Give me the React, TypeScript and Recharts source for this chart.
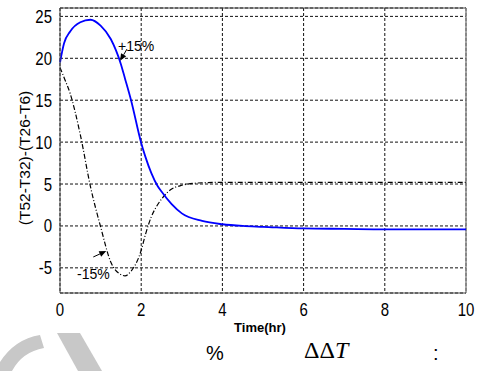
import {
  LineChart, Line, XAxis, YAxis, CartesianGrid, ReferenceLine,
} from 'recharts';

// time samples (hr) shared by both runs
const hours = [0, 0.1, 0.25, 0.5, 0.75, 1.0, 1.25, 1.5, 1.6, 1.75, 2.0, 2.1, 2.25, 2.4, 2.5, 2.75, 3.0, 3.5, 4, 4.5, 5, 6, 7, 8, 9, 10];
// +15% run
const plus15 = [19.5, 21.8, 23.2, 24.3, 24.6, 23.9, 22.3, 19.3, 17.6, 15.0, 9.9, 8.3, 6.3, 4.8, 4.1, 2.6, 1.5, 0.6, 0.2, 0.0, -0.1, -0.3, -0.35, -0.4, -0.4, -0.4];
// -15% run
const minus15 = [18.9, 17.7, 15.8, 10.9, 4.7, -0.1, -4.3, -5.8, -5.95, -5.4, -2.9, -1.1, 1.1, 2.5, 3.2, 4.4, 4.85, 5.15, 5.2, 5.2, 5.2, 5.2, 5.2, 5.2, 5.2, 5.2];

const xTicks = [0, 2, 4, 6, 8, 10];
const yTicks = [-5, 0, 5, 10, 15, 20, 25];

// arrow annotations: tail -> tip in data units, text anchor in data units
const notes = [
  { text: '+15%', tail: [1.65, 21.1], tip: [1.48, 19.7], at: [1.43, 20.9] },
  { text: '-15%', tail: [0.82, -3.7], tip: [1.14, -3.0], at: [0.42, -6.35] },
];

const rows = hours.map((t, i) => ({ t, up: plus15[i], down: minus15[i] }));

const FONT = '"Liberation Sans", Arial, sans-serif';

// tick text is drawn a little taller than the stock glyphs
function XTick({ x, y, payload }: any) {
  return (
    <g transform={`translate(${x},${y + 14.5}) scale(1,1.22)`}>
      <text textAnchor="middle" fontSize={15} fontFamily={FONT} fill="#000">{payload.value}</text>
    </g>
  );
}

function YTick({ x, y, payload }: any) {
  return (
    <g transform={`translate(${x},${y + 6.5}) scale(1,1.22)`}>
      <text textAnchor="end" fontSize={15} fontFamily={FONT} fill="#000">{payload.value}</text>
    </g>
  );
}

function arrowShape(text: string, at: [number, number], tail: [number, number], tip: [number, number]) {
  return (props: any) => {
    const { x1, y1, x2, y2 } = props;
    if (x1 == null) return <g />;
    const dx = x2 - x1;
    const dy = y2 - y1;
    const len = Math.hypot(dx, dy) || 1;
    const ux = dx / len;
    const uy = dy / len;
    const hl = 7;
    const hw = 3;
    const bx = x2 - ux * hl;
    const by = y2 - uy * hl;
    // text position relative to the arrow tail, same scale as the segment
    const sx = dx / (tip[0] - tail[0] || 1);
    const sy = dy / (tip[1] - tail[1] || 1);
    const tx = x1 + (at[0] - tail[0]) * sx;
    const ty = y1 + (at[1] - tail[1]) * sy;
    return (
      <g>
        <line x1={x1} y1={y1} x2={bx} y2={by} stroke="#000" strokeWidth={1} />
        <polygon
          points={`${x2},${y2} ${bx - uy * hw},${by + ux * hw} ${bx + uy * hw},${by - ux * hw}`}
          fill="#000"
        />
        <text x={tx} y={ty} fontSize={14} fontFamily={FONT} fill="#000">{text}</text>
      </g>
    );
  };
}

export default function App() {
  return (
    <div style={{ position: 'absolute', left: 0, top: 0, width: 479, height: 371, background: '#fff', overflow: 'hidden' }}>
      <svg width={479} height={371} style={{ position: 'absolute', left: 0, top: 0 }}>
        <path d="M -5 371 Q 10 340 40 335 L 44 348 Q 22 352 12 371 Z" fill="#c8c8c8" />
        <path d="M 57 333 L 80 333 L 102 371 L 78 371 Z" fill="#c8c8c8" />
      </svg>
      <LineChart
        width={479}
        height={371}
        data={rows}
        margin={{ top: 8, right: 13, bottom: 38, left: 0 }}
        style={{ position: 'absolute', left: 0, top: 0 }}
      >
        <CartesianGrid stroke="#111" strokeDasharray="3 2" />
        <XAxis
          dataKey="t"
          type="number"
          domain={[0, 10]}
          ticks={xTicks}
          height={40}
          tickLine={false}
          stroke="#444"
          tick={<XTick />}
          label={() => (
            <text x={260} y={332} textAnchor="middle" fontSize={13} fontWeight="bold" fontFamily={FONT} fill="#000">
              Time(hr)
            </text>
          )}
        />
        <YAxis
          type="number"
          domain={[-8, 26]}
          ticks={yTicks}
          width={60}
          tickLine={false}
          stroke="#444"
          tick={<YTick />}
          label={() => (
            <text
              x={30}
              y={158}
              transform="rotate(-90, 30, 158)"
              textAnchor="middle"
              fontSize={15.5}
              fontFamily={FONT}
              fill="#000"
            >
              (T52-T32)-(T26-T6)
            </text>
          )}
        />
        <ReferenceLine y={26} stroke="#444" strokeWidth={1} />
        <ReferenceLine x={10} stroke="#888" strokeWidth={1.5} />
        <Line dataKey="down" type="monotone" stroke="#000" strokeWidth={1.2} strokeDasharray="5 2 1 2" dot={false} isAnimationActive={false} />
        <Line dataKey="up" type="monotone" stroke="#0000ff" strokeWidth={1.8} dot={false} isAnimationActive={false} />
        {notes.map((n) => (
          <ReferenceLine
            key={n.text}
            segment={[{ x: n.tail[0], y: n.tail[1] }, { x: n.tip[0], y: n.tip[1] }]}
            shape={arrowShape(n.text, n.at as [number, number], n.tail as [number, number], n.tip as [number, number])}
            ifOverflow="visible"
          />
        ))}
      </LineChart>
      <span style={{ position: 'absolute', left: 206, top: 342, fontSize: 20, fontFamily: FONT, color: '#000' }}>%</span>
      <span style={{ position: 'absolute', left: 304, top: 337, fontSize: 24, fontFamily: '"Liberation Serif", "Times New Roman", serif', color: '#000' }}>
        ΔΔ<i>T</i>
      </span>
      <span style={{ position: 'absolute', left: 433, top: 342, fontSize: 20, fontFamily: FONT, color: '#000' }}>:</span>
    </div>
  );
}
